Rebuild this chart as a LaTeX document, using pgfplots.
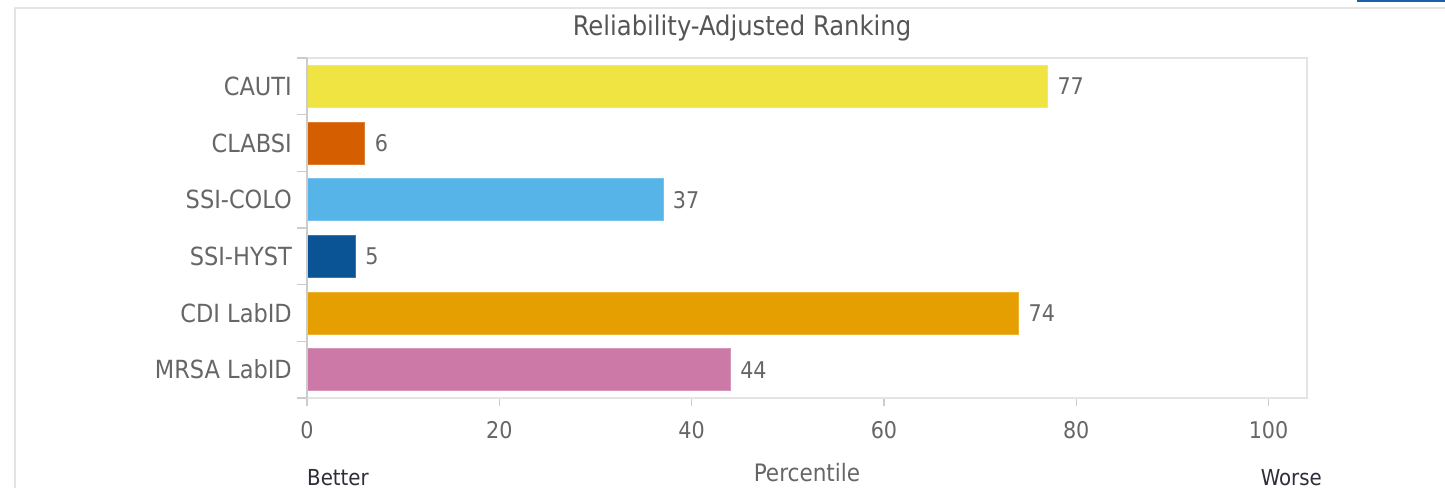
\documentclass[border=0pt]{standalone}
\usepackage{fontspec}
\setmainfont{DejaVu Sans Condensed}
\usepackage{pgfplots}
\pgfplotsset{compat=1.18}
\definecolor{cCAUTI}{HTML}{F0E442}
\definecolor{cCLABSI}{HTML}{D55E00}
\definecolor{cCOLO}{HTML}{56B4E9}
\definecolor{cHYST}{HTML}{0A5394}
\definecolor{cCDI}{HTML}{E69F00}
\definecolor{cMRSA}{HTML}{CC79A7}
\definecolor{txt}{HTML}{666666}
\definecolor{ttl}{HTML}{555555}
\definecolor{dark}{HTML}{2E2E38}
\definecolor{frame}{HTML}{E4E4E4}
\definecolor{axl}{HTML}{CCCCCC}
\definecolor{lnk}{HTML}{1F5FA8}
\begin{document}
\begin{tikzpicture}[x=1pt,y=1pt]
\useasboundingbox (0,0) rectangle (1445,488);
\draw[frame, line width=2.5pt] (15,0) -- (15,480) -- (1445,480);
\draw[lnk, line width=1.5pt] (1357,487) -- (1445,487);
\node[ttl, font=\fontsize{27}{30}\selectfont] at (742,460) {Reliability-Adjusted Ranking};
\begin{axis}[
  at={(307pt,90pt)}, anchor=south west,
  scale only axis, width=1000pt, height=340pt,
  xmin=0, xmax=104, ymin=-0.5, ymax=5.5, y dir=reverse,
  xbar, bar width=42pt,
  axis line style={frame, line width=2pt},
  tick pos=left,
  xtick={0,20,40,60,80,100},
  xticklabel style={txt, font=\fontsize{23}{25}\selectfont, yshift=-12pt},
  /pgf/number format/assume math mode=true,
  x tick style={axl, line width=1.2pt},
  major tick length=8pt,
  tick align=outside,
  ytick={0,1,2,3,4,5},
  yticklabels={CAUTI,CLABSI,SSI-COLO,SSI-HYST,CDI LabID,MRSA LabID},
  yticklabel style={txt, font=\fontsize{25}{28}\selectfont, inner sep=0pt, xshift=-7pt},
  y tick style={draw=none},
  extra y ticks={-0.5,0.5,1.5,2.5,3.5,4.5,5.5},
  extra y tick labels={},
  extra y tick style={y tick style={axl, line width=1.2pt, draw=axl}, major tick length=10pt},
  xlabel={Percentile},
  xlabel style={txt, font=\fontsize{24}{26}\selectfont, at={(axis description cs:0.5,0)}, anchor=north, inner sep=0pt, yshift=-65pt},
  nodes near coords,
  every node near coord/.append style={txt, font=\fontsize{23}{25}\selectfont, anchor=west, inner sep=0pt, xshift=10pt},
  clip=false,
]
\addplot[fill=cCAUTI, draw=cCAUTI!80!white, bar shift=0pt] coordinates {(77,0)};
\addplot[fill=cCLABSI, draw=cCLABSI!80!white, bar shift=0pt] coordinates {(6,1)};
\addplot[fill=cCOLO, draw=cCOLO!80!white, bar shift=0pt] coordinates {(37,2)};
\addplot[fill=cHYST, draw=cHYST!80!white, bar shift=0pt] coordinates {(5,3)};
\addplot[fill=cCDI, draw=cCDI!80!white, bar shift=0pt] coordinates {(74,4)};
\addplot[fill=cMRSA, draw=cMRSA!80!white, bar shift=0pt] coordinates {(44,5)};
\draw[axl, line width=1.5pt] (rel axis cs:0,0) -- (rel axis cs:0,1);
\end{axis}
\node[dark, font=\fontsize{22}{24}\selectfont, anchor=base west, inner sep=0pt] at (307,3) {Better};
\node[dark, font=\fontsize{22}{24}\selectfont, anchor=base east, inner sep=0pt] at (1322,3) {Worse};
\end{tikzpicture}
\end{document}
